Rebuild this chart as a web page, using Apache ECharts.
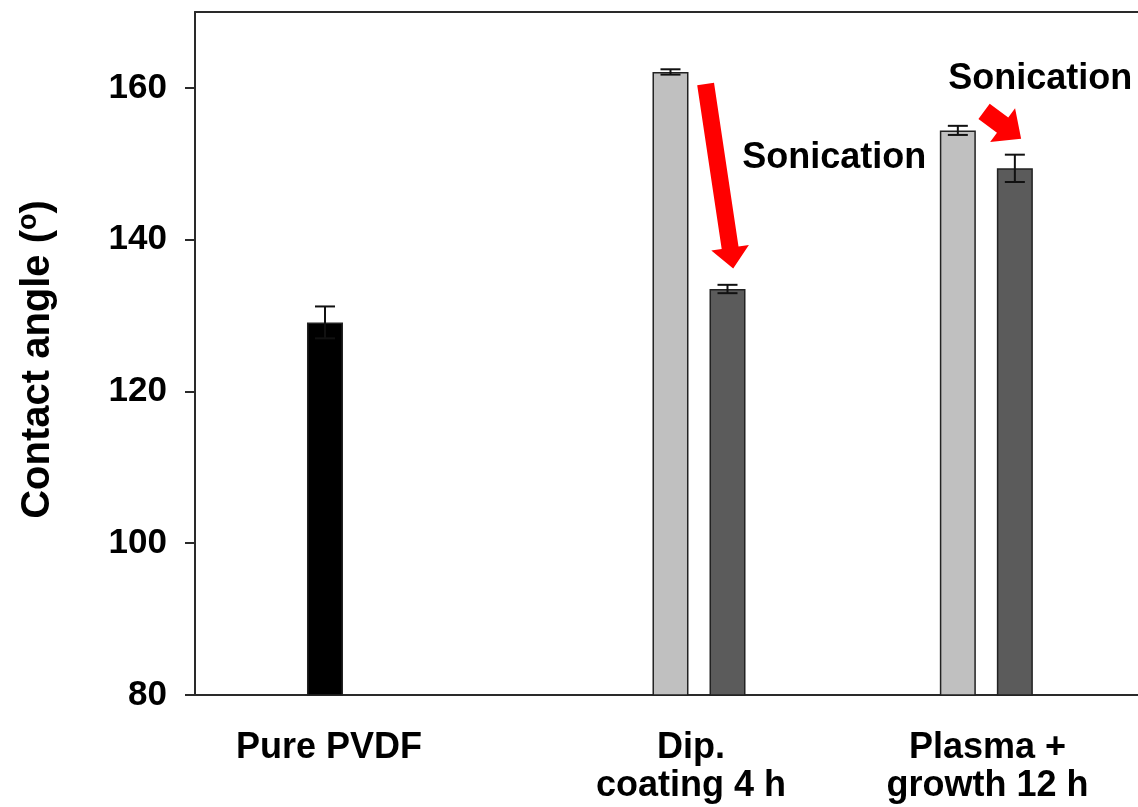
<!DOCTYPE html>
<html>
<head>
<meta charset="utf-8">
<title>Contact angle</title>
<script src="https://cdn.jsdelivr.net/npm/echarts@6/dist/echarts.min.js"></script>
<style>
  html, body { margin: 0; padding: 0; background: #fff; }
  #chart { width: 1138px; height: 807px; }
</style>
</head>
<body>
<div id="chart"></div>
<script>
// ---- data ----
const categories = ['Pure PVDF', 'Dip.\ncoating 4 h', 'Plasma +\ngrowth 12 h'];
const pureValues = [129.1];
const pureErrors = [2.1];
const beforeSonication = [null, 162.1, 154.4];
const beforeErrors = [null, 0.35, 0.6];
const afterSonication = [null, 133.5, 149.4];
const afterErrors = [null, 0.55, 1.8];
const yTicks = [80, 100, 120, 140, 160];
const annotationText = 'Sonication';

// ---- layout (x axis units: one unit = spacing between paired bars) ----
const X_MAX = 16.54;
const groupCenters = [2.28, 8.84, 13.88];
const pairOffset = 0.5;
const labelCenters = [2.35, 8.70, 13.90];
// arrows: tail (x, y) -> tip (x, y), in axis units
const arrows = [
  { from: [8.956, 160.5], to: [9.44, 136.2], shaft: 17, head: 38, headLen: 21 },
  { from: [13.84, 156.9], to: [14.49, 153.3], shaft: 19, head: 42, headLen: 23 }
];
const notes = [
  { at: [9.60, 150.7] },
  { at: [13.21, 161.2] }
];

const FONT = "'Liberation Sans', Arial, sans-serif";
const AXIS_COLOR = '#2a2a2a';

function barData(values, which) {
  const out = [];
  values.forEach((v, i) => {
    if (v == null) return;
    let x = groupCenters[i];
    if (which === 'before') x -= pairOffset;
    if (which === 'after') x += pairOffset;
    out.push([x, v]);
  });
  return out;
}
function errData(values, errs, which) {
  const out = [];
  values.forEach((v, i) => {
    if (v == null) return;
    let x = groupCenters[i];
    if (which === 'before') x -= pairOffset;
    if (which === 'after') x += pairOffset;
    out.push([x, v, errs[i]]);
  });
  return out;
}

const labelMap = new Map(labelCenters.map((c, i) => [c, categories[i]]));

function barSeries(name, data, color) {
  return {
    name, type: 'bar', data,
    barWidth: 36, barGap: '-100%', startValue: 80,
    itemStyle: { color, borderColor: '#222', borderWidth: 1.5 },
    z: 2
  };
}

const errorData = []
  .concat(errData(pureValues, pureErrors, 'pure'))
  .concat(errData(beforeSonication, beforeErrors, 'before'))
  .concat(errData(afterSonication, afterErrors, 'after'));

const chart = echarts.init(document.getElementById('chart'), null, { renderer: 'canvas' });

chart.setOption({
  animation: false,
  backgroundColor: '#fff',
  grid: { left: 195, right: 0, top: 12, bottom: 112, containLabel: false },
  xAxis: [
    {
      type: 'value', min: 0, max: X_MAX, position: 'bottom',
      splitLine: { show: false },
      axisTick: { show: false },
      axisLine: { show: true, onZero: false, lineStyle: { color: AXIS_COLOR, width: 2 } },
      axisLabel: {
        customValues: labelCenters,
        formatter: v => labelMap.get(v) || '',
        fontFamily: FONT, fontWeight: 'bold', fontSize: 36, lineHeight: 38,
        color: '#000', margin: 34
      }
    },
    {
      type: 'value', min: 0, max: X_MAX, position: 'top',
      splitLine: { show: false },
      axisTick: { show: false },
      axisLabel: { show: false },
      axisLine: { show: true, onZero: false, lineStyle: { color: AXIS_COLOR, width: 2 } }
    }
  ],
  yAxis: {
    type: 'value', min: 80, max: 170,
    splitLine: { show: false },
    axisLine: { show: true, onZero: false, lineStyle: { color: AXIS_COLOR, width: 2 } },
    axisTick: { show: true, inside: false, length: 10, customValues: yTicks, lineStyle: { color: AXIS_COLOR, width: 2 } },
    axisLabel: {
      customValues: yTicks,
      fontFamily: FONT, fontWeight: 'bold', fontSize: 35, color: '#000', margin: 28
    },
    name: 'Contact angle ({sup|o})',
    nameLocation: 'middle',
    nameGap: 135,
    nameTextStyle: {
      fontFamily: FONT, fontWeight: 'bold', fontSize: 40, color: '#000', lineHeight: 45,
      padding: [0, 12, 0, 0],
      rich: {
        sup: { fontFamily: FONT, fontWeight: 'bold', fontSize: 27, color: '#000', verticalAlign: 'top', lineHeight: 27 }
      }
    }
  },
  series: [
    barSeries('Pure PVDF', barData(pureValues, 'pure'), '#000000'),
    barSeries('As prepared', barData(beforeSonication, 'before'), '#c0c0c0'),
    barSeries('After sonication', barData(afterSonication, 'after'), '#5b5b5b'),
    {
      name: 'error', type: 'custom', z: 5,
      data: errorData,
      encode: { x: 0, y: 1 },
      renderItem(params, api) {
        const x = api.value(0), v = api.value(1), e = api.value(2);
        const hi = api.coord([x, v + e]);
        const lo = api.coord([x, v - e]);
        const half = 10;
        const style = { stroke: '#111', lineWidth: 2, fill: null };
        return {
          type: 'group',
          children: [
            { type: 'line', shape: { x1: hi[0], y1: hi[1], x2: lo[0], y2: lo[1] }, style },
            { type: 'line', shape: { x1: hi[0] - half, y1: hi[1], x2: hi[0] + half, y2: hi[1] }, style },
            { type: 'line', shape: { x1: lo[0] - half, y1: lo[1], x2: lo[0] + half, y2: lo[1] }, style }
          ]
        };
      }
    },
    {
      name: 'arrows', type: 'custom', z: 6, silent: true,
      data: arrows.map(a => [a.from[0], a.from[1], a.to[0], a.to[1], a.shaft, a.head, a.headLen]),
      encode: { x: [0, 2], y: [1, 3] },
      renderItem(params, api) {
        const p0 = api.coord([api.value(0), api.value(1)]);
        const p1 = api.coord([api.value(2), api.value(3)]);
        const sw = api.value(4) / 2, hw = api.value(5) / 2, hl = api.value(6);
        const dx = p1[0] - p0[0], dy = p1[1] - p0[1];
        const len = Math.hypot(dx, dy);
        const ux = dx / len, uy = dy / len;
        const nx = -uy, ny = ux;
        const bx = p1[0] - ux * hl, by = p1[1] - uy * hl;
        const pts = [
          [p0[0] + nx * sw, p0[1] + ny * sw],
          [bx + nx * sw, by + ny * sw],
          [bx + nx * hw, by + ny * hw],
          [p1[0], p1[1]],
          [bx - nx * hw, by - ny * hw],
          [bx - nx * sw, by - ny * sw],
          [p0[0] - nx * sw, p0[1] - ny * sw]
        ];
        return { type: 'polygon', shape: { points: pts }, style: { fill: '#ff0000', stroke: null } };
      }
    },
    {
      name: 'notes', type: 'custom', z: 6, silent: true,
      data: notes.map(n => [n.at[0], n.at[1]]),
      encode: { x: 0, y: 1 },
      renderItem(params, api) {
        const p = api.coord([api.value(0), api.value(1)]);
        return {
          type: 'text', x: p[0], y: p[1],
          style: {
            text: annotationText, fill: '#000',
            font: "bold 36px 'Liberation Sans', Arial, sans-serif",
            align: 'left', verticalAlign: 'middle'
          }
        };
      }
    }
  ]
});
</script>
</body>
</html>
